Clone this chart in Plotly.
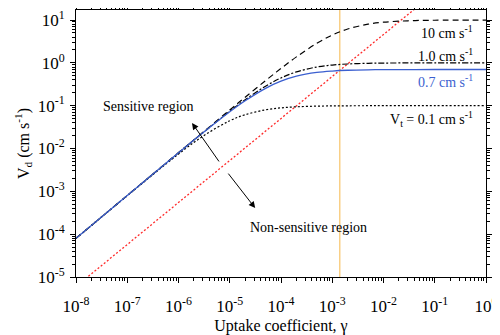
import plotly.graph_objects as go

# uptake coefficient grid
gamma = [1e-8, 1e-7, 1e-6, 3e-6, 1e-5, 2e-5, 5e-5, 1e-4, 2e-4, 5e-4,
         1e-3, 2e-3, 5e-3, 1e-2, 3e-2, 1e-1, 1]

vd_10 = [8.0e-5, 8.0e-4, 7.99e-3, 0.0239, 0.0794, 0.1575, 0.385, 0.741, 1.379, 2.857,
         4.444, 6.154, 8.0, 8.889, 9.6, 9.877, 9.988]
vd_1 = [8.0e-5, 8.0e-4, 7.94e-3, 0.0234, 0.0741, 0.1379, 0.2857, 0.444, 0.615, 0.8,
        0.889, 0.941, 0.976, 0.988, 0.996, 0.999, 1.0]
vd_07 = [7.99e-5, 7.99e-4, 7.91e-3, 0.0232, 0.0718, 0.130, 0.2545, 0.373, 0.487, 0.596,
         0.644, 0.671, 0.688, 0.694, 0.698, 0.699, 0.7]
vd_01 = [7.99e-5, 7.92e-4, 7.41e-3, 0.0194, 0.0444, 0.0615, 0.080, 0.0889, 0.0941, 0.0976,
         0.0988, 0.0994, 0.0998, 0.0999, 0.1, 0.1, 0.1]

# red reference line (sensitive / non-sensitive boundary)
red_gamma = [1e-8, 1]
red_vd = [6e-6, 420]

# vertical marker
vline_gamma = [1.4e-3, 1.4e-3]
vline_vd = [1e-5, 20]

xtick_vals = [1e-8, 1e-7, 1e-6, 1e-5, 1e-4, 1e-3, 1e-2, 1e-1, 1]
xtick_text = ['10<sup>-8</sup>', '10<sup>-7</sup>', '10<sup>-6</sup>', '10<sup>-5</sup>',
              '10<sup>-4</sup>', '10<sup>-3</sup>', '10<sup>-2</sup>', '10<sup>-1</sup>',
              '10<sup>0</sup>']
ytick_vals = [1e-5, 1e-4, 1e-3, 1e-2, 1e-1, 1, 10]
ytick_text = ['10<sup>-5</sup>', '10<sup>-4</sup>', '10<sup>-3</sup>', '10<sup>-2</sup>',
              '10<sup>-1</sup>', '10<sup>0</sup>', '10<sup>1</sup>']

FONT = 'Liberation Serif'
BLUE = '#3b5fd0'

fig = go.Figure()
fig.add_trace(go.Scatter(x=vline_gamma, y=vline_vd, mode='lines',
                         line=dict(color='#f9cf86', width=1.5)))
fig.add_trace(go.Scatter(x=red_gamma, y=red_vd, mode='lines',
                         line=dict(color='#ff2a2a', width=1.3, dash='2px,2px')))
fig.add_trace(go.Scatter(x=gamma, y=vd_10, mode='lines', line_shape='spline',
                         line=dict(color='black', width=1.2, dash='6px,4px')))
fig.add_trace(go.Scatter(x=gamma, y=vd_1, mode='lines', line_shape='spline',
                         line=dict(color='black', width=1.2, dash='6px,2px,2px,2px')))
fig.add_trace(go.Scatter(x=gamma, y=vd_01, mode='lines', line_shape='spline',
                         line=dict(color='black', width=1.2, dash='2px,2px')))
fig.add_trace(go.Scatter(x=gamma, y=vd_07, mode='lines', line_shape='spline',
                         line=dict(color=BLUE, width=1.3)))

axis_common = dict(
    type='log', showgrid=False, zeroline=False, automargin=False,
    showline=True, linecolor='black', linewidth=1, mirror='ticks',
    ticks='outside', ticklen=5, tickcolor='black', tickwidth=1,
    minor=dict(ticks='outside', ticklen=3, tickcolor='black', dtick='D1', showgrid=False),
    tickfont=dict(family=FONT, size=17, color='black'),
    ticklabeloverflow='allow',
)

# page body has an 8px margin, so the figure is sized/offset to put the plot area
# at the same place as in the reference
fig.update_layout(
    width=492, height=327,
    margin=dict(l=68, r=14, t=2, b=58),
    paper_bgcolor='white', plot_bgcolor='white',
    showlegend=False,
    font=dict(family=FONT, color='black'),
    xaxis=dict(axis_common, range=[-8, 0], tickvals=xtick_vals, ticktext=xtick_text,
               ticklabelstandoff=9,
               title=dict(text='Uptake coefficient, γ', font=dict(family=FONT, size=16),
                          standoff=6)),
    yaxis=dict(axis_common, range=[-5, 1.234], tickvals=ytick_vals, ticktext=ytick_text,
               ticklabelstandoff=2,
               title=dict(text='V<sub>d</sub> (cm s<sup>-1</sup>)', font=dict(family=FONT, size=16),
                          standoff=4)),
)

labels = [
    ('10 cm s<sup>-1</sup>', 0.972, 0.918, 'black'),
    ('1.0 cm s<sup>-1</sup>', 0.972, 0.831, 'black'),
    ('0.7 cm s<sup>-1</sup>', 0.972, 0.734, BLUE),
    ('V<sub>t</sub> = 0.1 cm s<sup>-1</sup>', 0.972, 0.591, 'black'),
]
for text, x, y, c in labels:
    fig.add_annotation(x=x, y=y, xref='paper', yref='paper', text=text, showarrow=False,
                       xanchor='right', yanchor='middle',
                       font=dict(family=FONT, size=14, color=c))

fig.add_annotation(x=0.176, y=0.640, xref='paper', yref='paper', text='Sensitive region',
                   showarrow=False, xanchor='center', yanchor='middle',
                   font=dict(family=FONT, size=14))
fig.add_annotation(x=0.566, y=0.184, xref='paper', yref='paper', text='Non-sensitive region',
                   showarrow=False, xanchor='center', yanchor='middle',
                   font=dict(family=FONT, size=14))

# arrows
fig.add_annotation(x=0.283, y=0.577, xref='paper', yref='paper', text='', showarrow=True,
                   ax=28, ay=40, arrowhead=2, arrowsize=1.3, arrowwidth=1, arrowcolor='black')
fig.add_annotation(x=0.437, y=0.258, xref='paper', yref='paper', text='', showarrow=True,
                   ax=-28, ay=-36, arrowhead=2, arrowsize=1.3, arrowwidth=1, arrowcolor='black')

fig.write_html('out.html')
